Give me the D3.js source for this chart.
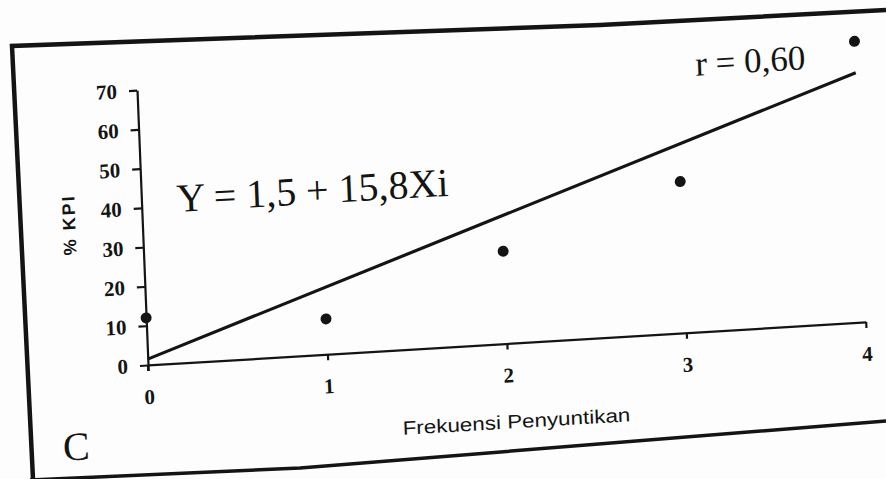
<!DOCTYPE html>
<html lang="en">
<head>
<meta charset="utf-8">
<title>% KPI vs Frekuensi Penyuntikan</title>
<style>
  body { margin: 0; background: #fff; overflow: hidden; }
  svg { display: block; }
  .tick text { font-family: 'Liberation Serif', 'Times New Roman', serif; font-weight: bold; font-size: 21px; }
</style>
</head>
<body>
<svg id="chart" width="886" height="479"></svg>
<script src="https://cdn.jsdelivr.net/npm/d3@7/dist/d3.min.js"></script>
<script>
// data
var frekuensi = [0, 1, 2, 3, 4];
var kpi = [12, 9, 23.5, 38.5, 71.5];
var xTicks = [0, 1, 2, 3, 4];
var yTicks = [0, 10, 20, 30, 40, 50, 60, 70];
var trendX = [0, 4];
var trendY = [1.5, 63.5];
var equation = "Y = 1,5 + 15,8Xi";
var rLabel = "r = 0,60";

var svg = d3.select("#chart");
var ink = "#141414";
var serif = "'Liberation Serif', 'Times New Roman', serif";

svg.append("rect").attr("width", 886).attr("height", 479).attr("fill", "#fdfdfd");

// the scan is tilted, so the plot lives in a slightly rotated/sheared frame
var g = svg.append("g")
  .attr("transform", "matrix(0.9982,-0.0598,0.04,0.9993,148,365)");

var x = d3.scaleLinear().domain([0, 4]).range([0, 719]);
var y = d3.scaleLinear().domain([0, 70]).range([0, -275]);

// outer frame of the panel (page border)
svg.append("path")
  .attr("d", d3.line()([[886, 10], [600, 25], [12, 46], [33, 479]]))
  .attr("fill", "none").attr("stroke", ink).attr("stroke-width", 4.5);
svg.append("path")
  .attr("d", d3.line()([[30, 480], [300, 468], [886, 421]]))
  .attr("fill", "none").attr("stroke", ink).attr("stroke-width", 3.5);

// axes
var yAxis = g.append("g")
  .call(d3.axisLeft(y).tickValues(yTicks).tickFormat(d3.format("d"))
    .tickSize(8).tickSizeOuter(0).tickPadding(12));
var xAxis = g.append("g")
  .call(d3.axisBottom(x).tickValues(xTicks).tickFormat(d3.format("d"))
    .tickSize(6).tickSizeOuter(0).tickPadding(18));

[yAxis, xAxis].forEach(function(a) {
  a.attr("font-size", 21).attr("font-family", serif).attr("font-weight", "bold");
  a.selectAll("path, line").attr("stroke", ink).attr("stroke-width", 2.2);
  a.selectAll("text").attr("fill", ink);
});

// small stub of the y axis below zero (the cross at the origin)
g.append("line")
  .attr("x1", x(0)).attr("x2", x(0))
  .attr("y1", y(0)).attr("y2", y(0) + 6)
  .attr("stroke", ink).attr("stroke-width", 2.2);

// regression line
var line = d3.line()
  .x(function(d, i) { return x(trendX[i]); })
  .y(function(d) { return y(d); });
g.append("path")
  .datum(trendY)
  .attr("d", line)
  .attr("fill", "none")
  .attr("stroke", ink)
  .attr("stroke-width", 3.2);

// observed points
g.selectAll("circle.pt")
  .data(kpi)
  .enter().append("circle")
  .attr("class", "pt")
  .attr("cx", function(d, i) { return x(frekuensi[i]); })
  .attr("cy", function(d) { return y(d); })
  .attr("r", 5.5)
  .attr("fill", ink);

// labels
g.append("text")
  .attr("x", 35).attr("y", -151)
  .attr("fill", ink)
  .style("font-family", serif)
  .style("font-size", "40px")
  .text(equation);

g.append("text")
  .attr("x", 614).attr("y", -256)
  .attr("text-anchor", "middle")
  .attr("fill", ink)
  .style("font-family", serif)
  .style("font-size", "35px")
  .text(rLabel);

g.append("text")
  .attr("transform", "translate(-67,-144.5) rotate(-90)")
  .attr("text-anchor", "middle")
  .attr("fill", ink)
  .style("font-family", "'Liberation Sans', Arial, sans-serif")
  .style("font-weight", "bold")
  .style("font-size", "18px")
  .style("letter-spacing", "2px")
  .text("% KPI");

g.append("text")
  .attr("x", 366).attr("y", 85)
  .attr("text-anchor", "middle")
  .attr("fill", ink)
  .attr("textLength", 228)
  .attr("lengthAdjust", "spacingAndGlyphs")
  .style("font-family", "'Liberation Sans Narrow', 'Liberation Sans', Arial, sans-serif")
  .style("font-size", "19px")
  .text("Frekuensi Penyuntikan");

g.append("text")
  .attr("x", -75).attr("y", 90.5)
  .attr("text-anchor", "middle")
  .attr("fill", ink)
  .style("font-family", serif)
  .style("font-size", "40px")
  .text("C");
</script>
</body>
</html>
